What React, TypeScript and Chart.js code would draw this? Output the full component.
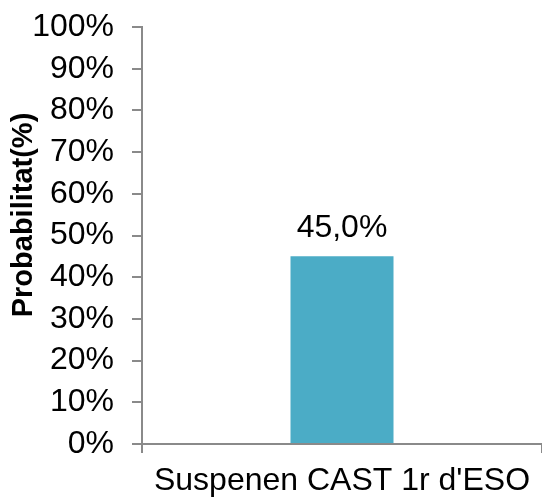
import React, { useEffect, useRef } from "react";
import { Chart, registerables } from "chart.js";

Chart.register(...registerables);

const categories = ["Suspenen CAST 1r d'ESO"];
const values = [45.0];
const valueLabels = ["45,0%"];
const yTicks = [0, 10, 20, 30, 40, 50, 60, 70, 80, 90, 100];
const yTitle = "Probabilitat(%)";

const FONT = "'Liberation Sans', Arial, sans-serif";
const AXIS_COLOR = "#8a8a8a";
const BAR_COLOR = "#4BACC6";

const labelsPlugin = {
  id: "customLabels",
  afterDatasetsDraw(chart: any) {
    const ctx = chart.ctx;
    const meta = chart.getDatasetMeta(0);
    ctx.save();
    ctx.fillStyle = "#000";
    ctx.font = `32px ${FONT}`;
    ctx.textAlign = "center";
    ctx.textBaseline = "alphabetic";
    meta.data.forEach((el: any, i: number) => {
      ctx.fillText(valueLabels[i], el.x, el.y - 19);
    });
    ctx.restore();
  },
  afterDraw(chart: any) {
    const ctx = chart.ctx;
    ctx.save();
    ctx.fillStyle = "#000";
    ctx.font = `bold 29px ${FONT}`;
    ctx.textAlign = "center";
    ctx.textBaseline = "alphabetic";
    ctx.translate(32, 215);
    ctx.rotate(-Math.PI / 2);
    ctx.fillText(yTitle, 0, 0);
    ctx.restore();
  },
};

export default function App() {
  const ref = useRef<HTMLCanvasElement>(null);
  useEffect(() => {
    document.body.style.margin = "0";
    const chart = new Chart(ref.current!, {
      type: "bar",
      data: {
        labels: categories,
        datasets: [
          {
            data: values,
            backgroundColor: BAR_COLOR,
            borderWidth: 0,
            categoryPercentage: 1,
            barPercentage: 0.2575,
          },
        ],
      },
      options: {
        animation: false,
        responsive: false,
        maintainAspectRatio: false,
        layout: { padding: { top: 27, left: 0, right: 0, bottom: 0 } },
        plugins: { legend: { display: false }, tooltip: { enabled: false } },
        scales: {
          x: {
            offset: true,
            grid: {
              offset: true,
              drawOnChartArea: false,
              drawTicks: true,
              tickLength: 9,
              color: AXIS_COLOR,
              lineWidth: 2,
            },
            border: { color: AXIS_COLOR, width: 2 },
            ticks: {
              color: "#000",
              font: { family: FONT, size: 32 },
              padding: 9,
              maxRotation: 0,
            },
            afterFit(scale: any) {
              scale.height = 58;
              scale.paddingLeft = 0;
              scale.paddingRight = 0;
            },
          },
          y: {
            min: 0,
            max: 100,
            afterBuildTicks(scale: any) {
              scale.ticks = yTicks.map((v) => ({ value: v }));
            },
            grid: {
              drawOnChartArea: false,
              drawTicks: true,
              tickLength: 10,
              color: AXIS_COLOR,
              lineWidth: 2,
            },
            border: { color: AXIS_COLOR, width: 2 },
            ticks: {
              color: "#000",
              font: { family: FONT, size: 32 },
              padding: 18,
              autoSkip: false,
              callback: (v: any) => `${v}%`,
            },
            afterFit(scale: any) {
              scale.width = 142;
              scale.paddingTop = 0;
              scale.paddingBottom = 0;
            },
          },
        },
      },
      plugins: [labelsPlugin],
    });
    return () => chart.destroy();
  }, []);
  return (
    <div style={{ position: "absolute", left: 0, top: 0, width: 542, height: 502 }}>
      <canvas ref={ref} width={542} height={502} style={{ width: 542, height: 502 }} />
    </div>
  );
}
